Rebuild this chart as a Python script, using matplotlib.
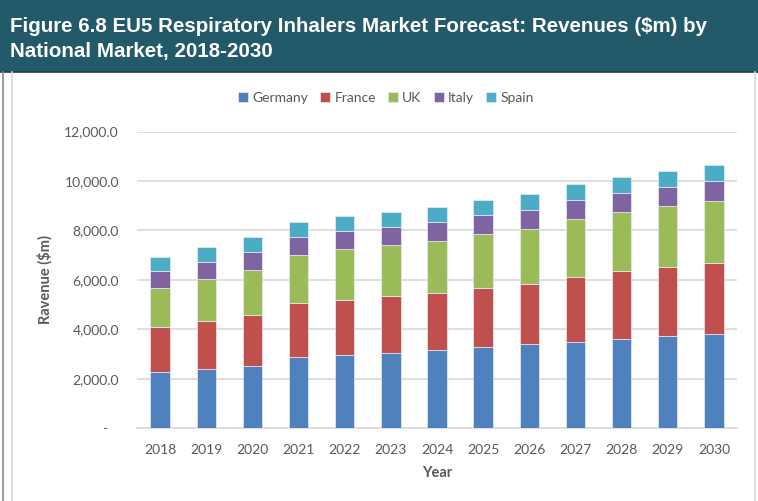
import matplotlib
matplotlib.use("Agg")
import matplotlib.pyplot as plt
from matplotlib.patches import Rectangle
from matplotlib.lines import Line2D
import numpy as np

years = ["2018", "2019", "2020", "2021", "2022", "2023", "2024",
         "2025", "2026", "2027", "2028", "2029", "2030"]
germany = [2292, 2387, 2508, 2885, 2953, 3034, 3155, 3276, 3398, 3506, 3613, 3721, 3829]
france = [1793, 1955, 2090, 2185, 2238, 2305, 2333, 2387, 2454, 2629, 2737, 2805, 2845]
uk = [1591, 1698, 1820, 1928, 2063, 2063, 2103, 2184, 2211, 2332, 2387, 2467, 2535]
italy = [701, 702, 728, 741, 728, 742, 755, 769, 782, 782, 782, 782, 795]
spain = [553, 579, 580, 594, 593, 606, 620, 620, 634, 634, 634, 647, 661]
series_names = ["Germany", "France", "UK", "Italy", "Spain"]
colors = ["#4F81BD", "#C0504D", "#9BBB59", "#8064A2", "#4BACC6"]
yticks = [0, 2000, 4000, 6000, 8000, 10000, 12000]

W, H = 758, 501
fig = plt.figure(figsize=(W / 100, H / 100), dpi=100)
fig.patch.set_facecolor("white")

def fx(px):
    return px / W

def fy(py):
    return 1 - py / H

# Title bar
fig.patches.append(Rectangle((0, fy(72)), 1, 72 / H, transform=fig.transFigure,
                             facecolor="#235A69", edgecolor="none", zorder=0))
fig.lines.append(Line2D([0, 1], [fy(72), fy(72)], transform=fig.transFigure,
                        color="#1a3f4a", lw=1.2))
# Panel borders
fig.lines.append(Line2D([fx(3), fx(3)], [0, fy(72)], transform=fig.transFigure, color="#8c8c8c", lw=1.2))
fig.lines.append(Line2D([fx(12), fx(12)], [0, fy(72)], transform=fig.transFigure, color="#d9d9d9", lw=1.2))
fig.lines.append(Line2D([fx(755), fx(755)], [0, fy(72)], transform=fig.transFigure, color="#d9d9d9", lw=1.2))

title_font = ["Liberation Sans Narrow", "Liberation Sans", "DejaVu Sans"]
fig.text(fx(10), fy(27), "Figure 6.8 EU5 Respiratory Inhalers Market Forecast: Revenues ($m) by",
         color="white", fontsize=14.8, fontweight="bold", family=title_font, va="center", ha="left")
fig.text(fx(10), fy(52), "National Market, 2018-2030",
         color="white", fontsize=14.8, fontweight="bold", family=title_font, va="center", ha="left")

ax = fig.add_axes([fx(137), fy(428.3), fx(737) - fx(137), (428.3 - 131.5) / H])
x = np.arange(len(years))
data = [germany, france, uk, italy, spain]
bottom = np.zeros(len(years))
handles = []
for name, vals, c in zip(series_names, data, colors):
    b = ax.bar(x, vals, bottom=bottom, width=0.42, color=c, edgecolor="#e8eef6",
               linewidth=0.5, label=name, zorder=3)
    handles.append(b)
    bottom = bottom + np.array(vals)

ax.set_xlim(-0.5, len(years) - 0.5)
ax.set_ylim(0, 12000)
ax.set_yticks(yticks)
ax.set_yticklabels(["-   "] + [f"{v:,.1f}" for v in yticks[1:]])
ax.set_xticks(x)
ax.set_xticklabels(years)
for s in ["top", "right", "left"]:
    ax.spines[s].set_visible(False)
ax.spines["bottom"].set_color("#d9d9d9")
ax.spines["bottom"].set_linewidth(1.2)
ax.grid(axis="y", color="#d9d9d9", linewidth=1.2, zorder=0)
ax.tick_params(axis="both", length=0, colors="#595959", labelsize=10)
ax.tick_params(axis="y", pad=13)
ax.tick_params(axis="x", pad=11)
for lab in ax.get_xticklabels() + ax.get_yticklabels():
    lab.set_family(["Lato", "DejaVu Sans"])

fig.text(fx(45), fy(280), "Ravenue ($m)", rotation=90, color="#595959", fontsize=10.5,
         fontweight="bold", family=["Lato", "DejaVu Sans"], ha="center", va="center")
fig.text(fx(437), fy(473), "Year", color="#595959", fontsize=10.5,
         fontweight="bold", family=["Lato", "DejaVu Sans"], ha="center", va="center")

leg = fig.legend(handles=handles, labels=series_names, loc="center", bbox_to_anchor=(fx(386), fy(98)),
                 ncol=5, frameon=False, handlelength=0.7, handleheight=0.7,
                 handletextpad=0.3, columnspacing=0.9, prop={"family": ["Lato", "DejaVu Sans"], "size": 10})
for t in leg.get_texts():
    t.set_color("#595959")

fig.savefig("out.png", dpi=100)
